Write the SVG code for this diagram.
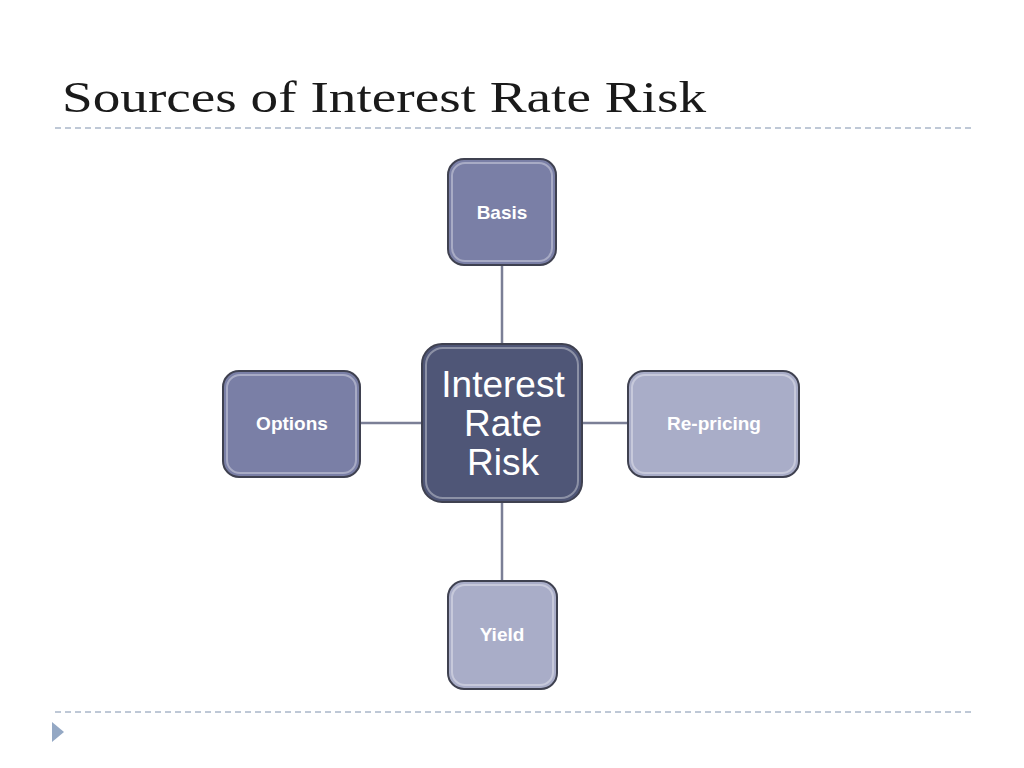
<svg xmlns="http://www.w3.org/2000/svg" width="1024" height="768" viewBox="0 0 1024 768">
<style>
.n{stroke:#3f4150;stroke-width:2}
.hl{fill:none;stroke:#ffffff;stroke-opacity:0.35;stroke-width:2}
.t{font-family:"Liberation Sans",Arial,sans-serif;fill:#fff;text-anchor:middle;font-weight:bold;font-size:19px}
.c{stroke:#7b7f96;stroke-width:2.5}
.d{stroke:#a9b7c9;stroke-width:1.5;stroke-dasharray:6 4}
</style>
<rect width="1024" height="768" fill="#fff"/>
<text x="62" y="112" font-family="Liberation Serif,serif" font-size="44" fill="#1a1a1a" textLength="644" lengthAdjust="spacingAndGlyphs">Sources of Interest Rate Risk</text>
<line class="d" x1="55" y1="128" x2="972" y2="128"/>
<line class="d" x1="55" y1="712" x2="972" y2="712"/>
<polygon points="52,722 64,732 52,742" fill="#94a8c4"/>
<g id="connectors">
<line class="c" x1="502" y1="265" x2="502" y2="345"/>
<line class="c" x1="502" y1="502" x2="502" y2="582"/>
<line class="c" x1="360" y1="423" x2="422" y2="423"/>
<line class="c" x1="582" y1="423" x2="628" y2="423"/>
</g>
<g id="basis"><rect class="n" x="448" y="159" width="108" height="106" rx="16" fill="#7a7fa6"/><rect class="hl" x="452" y="163" width="100" height="98" rx="13"/><text class="t" x="502" y="219">Basis</text></g>
<g id="center"><rect class="n" x="422" y="344" width="160" height="158" rx="20" fill="#4f5677"/><rect class="hl" x="426" y="348" width="152" height="150" rx="17"/><text class="t" style="font-weight:normal;font-size:37px" x="503" y="397">Interest</text><text class="t" style="font-weight:normal;font-size:37px" x="503" y="436">Rate</text><text class="t" style="font-weight:normal;font-size:37px" x="503" y="475">Risk</text></g>
<g id="options"><rect class="n" x="223" y="371" width="137" height="106" rx="16" fill="#7a7fa6"/><rect class="hl" x="227" y="375" width="129" height="98" rx="13"/><text class="t" x="292" y="430">Options</text></g>
<g id="repricing"><rect class="n" x="628" y="371" width="171" height="106" rx="16" fill="#a9adc8"/><rect class="hl" x="632" y="375" width="163" height="98" rx="13"/><text class="t" x="714" y="430">Re-pricing</text></g>
<g id="yield"><rect class="n" x="448" y="581" width="109" height="108" rx="16" fill="#a9adc8"/><rect class="hl" x="452" y="585" width="101" height="100" rx="13"/><text class="t" x="502" y="641">Yield</text></g>
</svg>
